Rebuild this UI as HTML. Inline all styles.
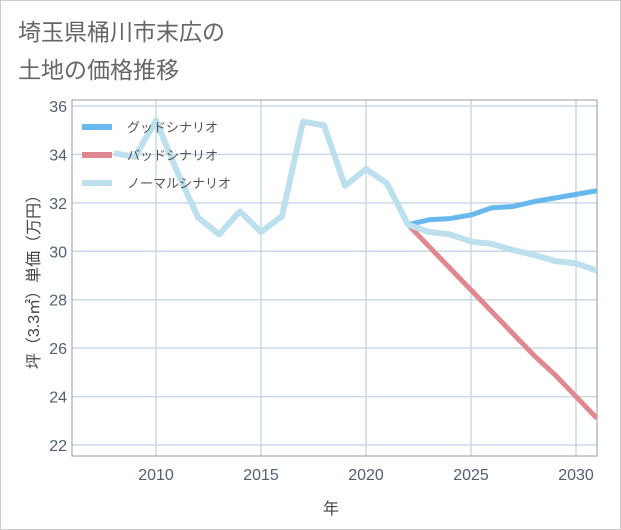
<!DOCTYPE html>
<html><head><meta charset="utf-8"><style>
body{margin:0;background:#fff;}
svg{display:block;font-family:"Liberation Sans","Noto Sans CJK JP",sans-serif;}
</style></head><body>
<svg width="621" height="530">
<rect x="0.5" y="0.5" width="620" height="529" fill="#fff" stroke="#ccc"/>
<text x="18" y="40" font-size="23" fill="#666">埼玉県桶川市末広の</text>
<text x="18" y="78" font-size="23" fill="#666">土地の価格推移</text>
<g id="grid"></g>
<rect x="72" y="100" width="525" height="356" fill="none" stroke="#999"/>
<g id="series"></g>
<g id="legend"></g>
<text x="331" y="514" font-size="16" fill="#444" text-anchor="middle">年</text>
<text transform="translate(39,278) rotate(-90)" font-size="16" fill="#444" text-anchor="middle">坪（3.3㎡）単価（万円）</text>
</svg>
<script>
const normalYears=[2008,2009,2010,2011,2012,2013,2014,2015,2016,2017,2018,2019,2020,2021,2022,2023,2024,2025,2026,2027,2028,2029,2030,2031];
const normalValues=[34.05,33.9,35.4,33.3,31.4,30.7,31.65,30.8,31.45,35.35,35.2,32.7,33.4,32.8,31.1,30.8,30.7,30.4,30.3,30.05,29.85,29.6,29.5,29.2];
const futureYears=[2022,2023,2024,2025,2026,2027,2028,2029,2030,2031];
const goodValues=[31.1,31.3,31.35,31.5,31.8,31.85,32.05,32.2,32.35,32.5];
const badValues=[31.1,30.2,29.3,28.4,27.5,26.6,25.7,24.9,24.0,23.1];
const xTicks=[2010,2015,2020,2025,2030];
const yTicks=[22,24,26,28,30,32,34,36];
const seriesNames=["グッドシナリオ","バッドシナリオ","ノーマルシナリオ"];
const NS="http://www.w3.org/2000/svg";
const X=y=>156+(y-2010)*21;
const Y=v=>106+(36-v)*(339/14);
function mk(t,a,p){const e=document.createElementNS(NS,t);for(const k in a)e.setAttribute(k,a[k]);p.appendChild(e);return e;}
const grid=document.getElementById('grid');
xTicks.forEach(t=>{
 const l=mk('line',{x1:X(t),x2:X(t),y1:100,y2:456,stroke:'#c9d9e6','stroke-width':1.5},grid);
 
 
 const tx=mk('text',{x:X(t),y:480,'font-size':16,fill:'#506070','text-anchor':'middle'},grid);
 tx.textContent=t;
 
 
});
yTicks.forEach(t=>{
 const l=mk('line',{x1:72,x2:597,y1:Y(t),y2:Y(t),stroke:'#c9d9e6','stroke-width':1.5},grid);
 
 
 const tx=mk('text',{x:67,y:Y(t)+6,'font-size':16,fill:'#506070','text-anchor':'end'},grid);
 tx.textContent=t;
 
 
});
const sg=document.getElementById('series');
const defs=mk('defs',{},sg);
const cp=mk('clipPath',{id:'clip'},defs);
mk('rect',{x:72,y:100,width:525,height:356},cp);
function line(xs,vs,color,w,name){
 const p=mk('polyline',{points:xs.map((x,i)=>X(x)+','+Y(vs[i])).join(' '),fill:'none',stroke:color,'stroke-width':w,'stroke-linejoin':'round','clip-path':'url(#clip)'},sg);
 
 
}
line(futureYears,badValues,'#e0888f',5,'bad-scenario-line');
line(futureYears,goodValues,'#68b8f0',5,'good-scenario-line');
line(normalYears,normalValues,'#bde0ee',6,'normal-scenario-line');
const lg=document.getElementById('legend');
const colors=['#68b8f0','#e0888f','#bde0ee'];
seriesNames.forEach((n,i)=>{
 const y=127+i*28;
 const l=mk('line',{x1:82,x2:112,y1:y,y2:y,stroke:colors[i],'stroke-width':6},lg);
 
 
 const t=mk('text',{x:127,y:y+5,'font-size':13,fill:'#555'},lg);
 t.textContent=n;
 
 
});
</script>
</body></html>
